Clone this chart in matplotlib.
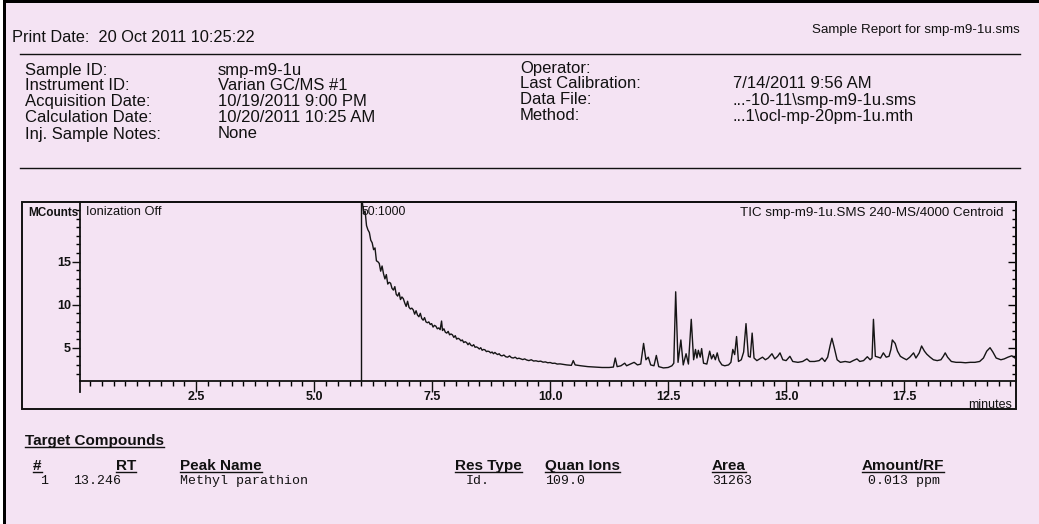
import matplotlib
matplotlib.use('Agg')
import matplotlib.pyplot as plt
from matplotlib.lines import Line2D
from matplotlib.patches import Rectangle
from matplotlib.ticker import MultipleLocator, FixedLocator, FormatStrFormatter

temps_min = [
    6.02, 6.05, 6.08, 6.11, 6.14, 6.17, 6.20, 6.23, 6.26, 6.29, 6.32, 6.35,
    6.38, 6.41, 6.44, 6.47, 6.50, 6.53, 6.56, 6.59, 6.62, 6.65, 6.68, 6.71,
    6.74, 6.77, 6.80, 6.83, 6.86, 6.89, 6.92, 6.95, 6.98, 7.01, 7.04, 7.07,
    7.10, 7.13, 7.16, 7.19, 7.22, 7.25, 7.28, 7.31, 7.34, 7.37, 7.40, 7.43,
    7.46, 7.49, 7.52, 7.55, 7.58, 7.61, 7.64, 7.67, 7.70, 7.72, 7.75, 7.78,
    7.81, 7.84, 7.87, 7.90, 7.93, 7.96, 7.99, 8.02, 8.05, 8.08, 8.11, 8.14,
    8.17, 8.20, 8.23, 8.26, 8.29, 8.32, 8.35, 8.38, 8.41, 8.44, 8.47, 8.50,
    8.53, 8.56, 8.59, 8.62, 8.65, 8.68, 8.71, 8.74, 8.77, 8.80, 8.83, 8.86,
    8.89, 8.92, 8.95, 8.98, 9.02, 9.06, 9.10, 9.14, 9.18, 9.22, 9.26, 9.30,
    9.34, 9.38, 9.42, 9.46, 9.50, 9.55, 9.60, 9.65, 9.70, 9.75, 9.80, 9.85,
    9.90, 9.95, 10.00, 10.05, 10.10, 10.15, 10.21,
    10.35, 10.45, 10.49, 10.53, 10.65, 10.80,
    10.95, 11.10, 11.25, 11.34, 11.38, 11.42, 11.50, 11.58, 11.62, 11.70,
    11.78, 11.85, 11.92, 11.98, 12.03, 12.08, 12.13, 12.20, 12.25, 12.30,
    12.40, 12.50, 12.58, 12.62, 12.66, 12.71, 12.77, 12.82, 12.88, 12.93,
    12.99, 13.04, 13.08, 13.11, 13.14, 13.18, 13.21, 13.25, 13.32, 13.38,
    13.42, 13.46, 13.50, 13.54, 13.58, 13.64, 13.70, 13.78, 13.83, 13.87,
    13.91, 13.95, 13.99, 14.05, 14.10, 14.15, 14.20, 14.24, 14.28, 14.32,
    14.38, 14.44, 14.50, 14.56, 14.62, 14.70, 14.76, 14.82, 14.87, 14.93,
    15.00, 15.08, 15.14, 15.25, 15.35, 15.44, 15.50, 15.60, 15.70, 15.76,
    15.82, 15.88, 15.93, 15.97, 16.02, 16.08, 16.15, 16.25, 16.35, 16.42,
    16.50, 16.56, 16.64, 16.72, 16.78, 16.82, 16.85, 16.89, 16.95, 17.00,
    17.06, 17.12, 17.18, 17.22, 17.25, 17.31, 17.36, 17.42, 17.48, 17.55,
    17.62, 17.70, 17.75, 17.82, 17.87, 17.93, 17.98, 18.05, 18.12, 18.20,
    18.28, 18.33, 18.37, 18.42, 18.50, 18.60, 18.70, 18.80, 18.90, 19.00,
    19.10, 19.18, 19.25, 19.32, 19.38, 19.45, 19.55, 19.62, 19.70, 19.78,
    19.85,
]
mcounts = [
    22.0, 20.6, 20.9, 19.2, 18.7, 18.4, 17.5, 17.2, 16.4, 16.6, 15.1, 15.0,
    14.8, 13.9, 14.5, 13.6, 13.0, 13.5, 12.4, 12.6, 12.5, 11.9, 11.7, 12.1,
    11.2, 11.0, 11.4, 10.6, 10.9, 10.7, 10.2, 9.8, 10.4, 9.7, 9.5, 9.6,
    9.4, 8.9, 9.3, 8.8, 8.6, 9.0, 8.4, 8.2, 8.5, 8.0, 7.9, 8.0,
    7.7, 7.8, 7.4, 7.6, 7.5, 7.2, 7.3, 7.1, 8.1, 7.0, 7.2, 6.8,
    6.7, 6.9, 6.5, 6.6, 6.5, 6.2, 6.4, 6.0, 6.1, 6.0, 5.8, 5.9,
    5.6, 5.7, 5.6, 5.35, 5.55, 5.3, 5.2, 5.35, 5.05, 5.1, 5.0, 4.85,
    5.0, 4.7, 4.8, 4.75, 4.55, 4.6, 4.55, 4.4, 4.5, 4.3, 4.45, 4.3,
    4.2, 4.3, 4.1, 4.05, 4.15, 3.95, 3.9, 4.05, 3.85, 3.8, 3.9, 3.72,
    3.78, 3.7, 3.62, 3.7, 3.58, 3.5, 3.6, 3.45, 3.48, 3.4, 3.44, 3.32,
    3.35, 3.25, 3.28, 3.18, 3.2, 3.1, 3.12,
    3.0, 2.95, 3.5, 3.0, 2.9, 2.8,
    2.75, 2.7, 2.7, 2.75, 3.8, 2.8, 2.9, 3.2, 2.9, 3.1,
    3.3, 3.0, 3.1, 5.5, 3.6, 3.9, 3.0, 2.9, 4.1, 2.8,
    2.65, 2.7, 2.9, 3.2, 11.5, 3.3, 5.9, 3.0, 4.3, 3.1,
    8.3, 3.6, 4.8, 3.8, 4.7, 3.9, 4.9, 3.2, 3.1, 4.6,
    3.7, 4.2, 3.6, 4.4, 3.5, 3.0, 2.9, 3.0, 3.3, 4.8,
    4.2, 6.3, 3.4, 3.6, 4.5, 7.8, 4.0, 3.9, 6.7, 3.8,
    3.5, 3.7, 3.9, 3.6, 3.8, 4.3, 3.7, 4.0, 4.4, 3.6,
    3.5, 4.0, 3.4, 3.3, 3.4, 3.7, 3.4, 3.4, 3.5, 3.8,
    3.4, 3.9, 5.2, 6.1, 5.0, 3.6, 3.3, 3.4, 3.3, 3.5,
    3.7, 3.4, 3.5, 3.95, 3.6, 3.8, 8.3, 4.0, 3.9, 3.8,
    4.4, 3.9, 4.0, 4.8, 5.9, 5.5, 4.6, 4.0, 3.8, 3.6,
    3.9, 4.4, 3.8, 4.4, 5.2, 4.6, 4.25, 3.9, 3.6, 3.5,
    3.6, 4.0, 4.4, 3.9, 3.4, 3.3, 3.3, 3.25, 3.3, 3.3,
    3.4, 3.8, 4.6, 5.0, 4.5, 3.8, 3.6, 3.7, 3.9, 4.06,
    3.8,
]

# En-tete du rapport
etiquettes_gauche = ['Sample ID:', 'Instrument ID:', 'Acquisition Date:',
                     'Calculation Date:', 'Inj. Sample Notes:']
valeurs_gauche = ['smp-m9-1u', 'Varian GC/MS #1', '10/19/2011 9:00 PM',
                  '10/20/2011 10:25 AM', 'None']
etiquettes_droite = ['Operator:', 'Last Calibration:', 'Data File:', 'Method:']
valeurs_droite = ['', '7/14/2011 9:56 AM', '...-10-11\\smp-m9-1u.sms',
                  '...1\\ocl-mp-20pm-1u.mth']

# Tableau des composes cibles
colonnes = ['#', 'RT', 'Peak Name', 'Res Type', 'Quan Ions', 'Area', 'Amount/RF']
ligne_1 = ['1', '13.246', 'Methyl parathion', 'Id.', '109.0', '31263', '0.013 ppm']

# Graduations
ticks_y = [5, 10, 15]

PAPIER = '#f4e3f3'
ENCRE = '#111111'
W, H = 1039, 524

fig = plt.figure(figsize=(W / 100, H / 100), dpi=100)
fig.patch.set_facecolor(PAPIER)
SANS = 'Liberation Sans'
MONO = 'Liberation Mono'


def texte(x, y, s, **kw):
    kw.setdefault('family', SANS)
    kw.setdefault('color', ENCRE)
    kw.setdefault('va', 'center')
    return fig.text(x / W, 1 - y / H, s, **kw)


def ligne(x0, y0, x1, y1, lw=1.0):
    fig.add_artist(Line2D([x0 / W, x1 / W], [1 - y0 / H, 1 - y1 / H],
                          transform=fig.transFigure, color=ENCRE, lw=lw))


def souligne(t):
    # Tracer un trait sous le texte
    rendu = fig.canvas.get_renderer()
    bb = t.get_window_extent(rendu)
    yb = t.get_position()[1] * H - 1.5
    fig.add_artist(Line2D([bb.x0 / W, bb.x1 / W], [yb / H, yb / H],
                          transform=fig.transFigure, color=ENCRE, lw=1.0))


# Bordure de la page
fig.add_artist(Rectangle((3 / W, 0), 3 / W, 1, transform=fig.transFigure,
                         color='black', lw=0))
fig.add_artist(Rectangle((0, 1 - 3 / H), 1, 3 / H, transform=fig.transFigure,
                         color='black', lw=0))
fig.add_artist(Rectangle((0, 0), 3 / W, 1, transform=fig.transFigure,
                         color='white', lw=0))

# En-tete
texte(12, 37, 'Print Date:  20 Oct 2011 10:25:22', fontsize=11.8)
texte(1020, 30, 'Sample Report for smp-m9-1u.sms', fontsize=9.6, ha='right')
ligne(20, 54, 1020, 54)
ligne(20, 168, 1020, 168)

rangs = [70, 86, 102, 118, 134]
for y, etiq, val in zip(rangs, etiquettes_gauche, valeurs_gauche):
    texte(25, y, etiq, fontsize=12)
    texte(218, y, val, fontsize=12)
for y, etiq, val in zip(rangs, etiquettes_droite, valeurs_droite):
    texte(520, y - 2, etiq, fontsize=12)
    texte(733, y - 2, val, fontsize=12)

# Cadre du graphe
fig.add_artist(Rectangle((22 / W, 1 - 409 / H), 994 / W, 207 / H, fill=False,
                         lw=1.4, ec=ENCRE, transform=fig.transFigure))

ax = fig.add_axes([80 / W, 1 - 381 / H, 936 / W, 179 / H])
ax.set_facecolor('none')
ax.plot(temps_min, mcounts, color='#151515', lw=1.0)
ax.axvline(6.0, color=ENCRE, lw=1.0)
ax.set_xlim(0.04, 19.87)
ax.set_ylim(1.13, 21.94)

for cote in ax.spines.values():
    cote.set_linewidth(1.3)
    cote.set_color(ENCRE)

ax.xaxis.set_major_locator(MultipleLocator(2.5))
ax.xaxis.set_minor_locator(MultipleLocator(0.25))
ax.xaxis.set_major_formatter(FormatStrFormatter('%.1f'))
ax.yaxis.set_major_locator(FixedLocator(ticks_y))
ax.yaxis.set_minor_locator(MultipleLocator(1))
ax.tick_params(axis='x', which='major', direction='out', length=8, width=1,
               labelsize=9, pad=-1, colors=ENCRE)
ax.tick_params(axis='x', which='minor', direction='out', length=3.5, width=1)
ax.tick_params(axis='y', which='major', direction='out', length=6, width=1,
               labelsize=9, pad=0.5, colors=ENCRE)
ax.tick_params(axis='y', which='minor', direction='out', length=3, width=1)
for lab in ax.get_xticklabels() + ax.get_yticklabels():
    lab.set_family(SANS)
    lab.set_fontweight('bold')

# Graduations interieures a droite
droite = ax.secondary_yaxis('right')
droite.yaxis.set_major_locator(FixedLocator(ticks_y))
droite.yaxis.set_minor_locator(MultipleLocator(1))
droite.tick_params(which='major', direction='in', length=6, width=1,
                   labelright=False)
droite.tick_params(which='minor', direction='in', length=3, width=1)
droite.spines['right'].set_linewidth(1.3)

# Prolongement de l'axe y sous l'axe x
ligne(80, 381, 80, 392, lw=1.3)

texte(28, 213, 'MCounts', fontsize=8.5, fontweight='bold')
texte(86, 212, 'Ionization Off', fontsize=9.3)
texte(361, 212, '50:1000', fontsize=8.8)
texte(1003, 213, 'TIC smp-m9-1u.SMS 240-MS/4000 Centroid', fontsize=9.6,
      ha='right')
texte(1012, 405, 'minutes', fontsize=9, ha='right')

# Composes cibles
souligne(texte(25, 445, 'Target Compounds', fontsize=11, fontweight='bold',
               va='baseline'))

x_entetes = [33, 136, 180, 455, 545, 712, 862]
aligne_entetes = ['left', 'right', 'left', 'left', 'left', 'left', 'left']
for x, nom, ha in zip(x_entetes, colonnes, aligne_entetes):
    souligne(texte(x, 470, nom, fontsize=11, fontweight='bold', va='baseline',
                   ha=ha))

x_valeurs = [40, 121, 180, 466, 545, 712, 868]
aligne_valeurs = ['left', 'right', 'left', 'left', 'left', 'left', 'left']
for x, val, ha in zip(x_valeurs, ligne_1, aligne_valeurs):
    texte(x, 484, val, fontsize=9.5, family=MONO, va='baseline', ha=ha)

fig.savefig('out.png', dpi=100, facecolor=PAPIER)
